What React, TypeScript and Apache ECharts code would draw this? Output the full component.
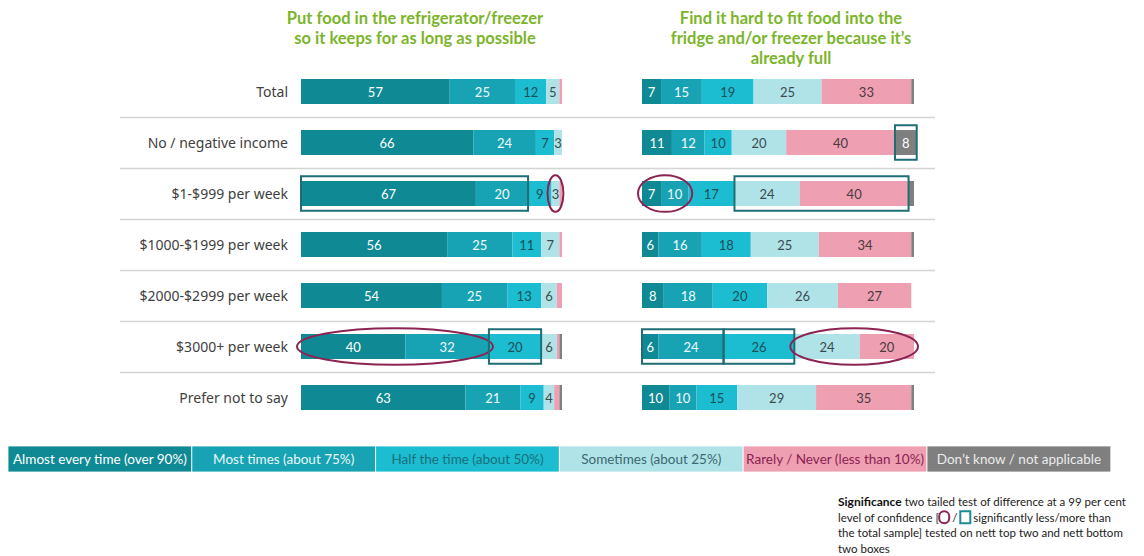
import React, { useEffect, useRef } from "react";
import * as echarts from "echarts";

const categories = [
  "Total",
  "No / negative income",
  "$1-$999 per week",
  "$1000-$1999 per week",
  "$2000-$2999 per week",
  "$3000+ per week",
  "Prefer not to say",
];

const responseLabels = [
  "Almost every time (over 90%)",
  "Most times (about 75%)",
  "Half the time (about 50%)",
  "Sometimes (about 25%)",
  "Rarely / Never (less than 10%)",
  "Don\u2019t know / not applicable",
];

const leftTitle = "Put food in the refrigerator/freezer\nso it keeps for as long as possible";
const rightTitle = "Find it hard to fit food into the\nfridge and/or freezer because it\u2019s\nalready full";

// Left: Put food in the refrigerator/freezer
const leftAlmost = [57, 66, 67, 56, 54, 40, 63];
const leftMost = [25, 24, 20, 25, 25, 32, 21];
const leftHalf = [12, 7, 9, 11, 13, 20, 9];
const leftSometimes = [5, 3, 3, 7, 6, 6, 4];
const leftRarely = [1, 0, 1, 1, 2, 1, 2];
const leftDontKnow = [0, 0, 0, 0, 0, 1, 1];

// Right: Find it hard to fit food
const rightAlmost = [7, 11, 7, 6, 8, 6, 10];
const rightMost = [15, 12, 10, 16, 18, 24, 10];
const rightHalf = [19, 10, 17, 18, 20, 26, 15];
const rightSometimes = [25, 20, 24, 25, 26, 24, 29];
const rightRarely = [33, 40, 40, 34, 27, 20, 35];
const rightDontKnow = [1, 8, 2, 1, 0, 0, 1];

// Significance marks: [row, firstSegment, lastSegment, kind (1 = more/box, 0 = less/circle)]
const leftSignificance = [
  [2, 0, 1, 1],
  [2, 3, 3, 0],
  [5, 0, 1, 0],
  [5, 2, 2, 1],
];
const rightSignificance = [
  [1, 5, 5, 1],
  [2, 0, 1, 0],
  [2, 3, 4, 1],
  [5, 0, 1, 1],
  [5, 2, 2, 1],
  [5, 3, 4, 0],
];

const separatorRows = [1, 2, 3, 4, 5, 6];

const colors = ["#0F8A94", "#17A3B4", "#1DBDD1", "#B0E3E8", "#EEA0B2", "#7F7F7F"];
const labelColors = ["#ffffff", "#f2fbfc", "#1B4F59", "#3A4B50", "#4A3A40", "#ffffff"];
const legendTextColors = ["#ffffff", "#e9f8fa", "#17707A", "#3C6870", "#8A2352", "#ececec"];

const FONT = "Lato, 'Noto Sans', sans-serif";
const LABEL_FONT = "'Noto Sans', Lato, sans-serif";

function sigData(sets: number[][], sig: number[][]) {
  return sig.map(([row, a, b, kind]) => {
    let start = 0;
    for (let i = 0; i < a; i++) start += sets[i][row];
    let end = start;
    for (let i = a; i <= b; i++) end += sets[i][row];
    return [row, start, end, kind];
  });
}

function sigRender(params: any, api: any) {
  const row = api.value(0);
  const s = api.value(1);
  const e = api.value(2);
  const kind = api.value(3);
  const a = api.coord([s, row]);
  const b = api.coord([e, row]);
  const band = api.size([0, 1])[1];
  if (kind === 1) {
    return {
      type: "rect",
      shape: { x: a[0], y: a[1] - band * 0.34, width: b[0] - a[0], height: band * 0.68 },
      style: { fill: "none", stroke: "#1F6E76", lineWidth: 2 },
      z2: 10,
    };
  }
  return {
    type: "ellipse",
    shape: { cx: (a[0] + b[0]) / 2, cy: a[1], rx: (b[0] - a[0]) / 2 + 4, ry: band * 0.36 },
    style: { fill: "none", stroke: "#8C2453", lineWidth: 2 },
    z2: 10,
  };
}

function buildSide(sets: number[][], idx: number, stack: string) {
  return sets.map((vals, i) => ({
    type: "bar",
    name: responseLabels[i],
    stack,
    xAxisIndex: idx,
    yAxisIndex: idx,
    barWidth: 25,
    clip: false,
    data: vals,
    itemStyle: { color: colors[i] },
    label: {
      show: true,
      position: "inside",
      fontFamily: FONT,
      fontSize: 13,
      color: labelColors[i],
      formatter: (p: any) => (p.value >= 3 ? String(p.value) : ""),
    },
  }));
}

export default function App() {
  const ref = useRef<HTMLDivElement>(null);
  useEffect(() => {
    if (!ref.current) return;
    const chart = echarts.init(ref.current, undefined, { renderer: "svg" });
    const leftSets = [leftAlmost, leftMost, leftHalf, leftSometimes, leftRarely, leftDontKnow];
    const rightSets = [rightAlmost, rightMost, rightHalf, rightSometimes, rightRarely, rightDontKnow];

    const legendX0 = 8;
    const legendW = 183.8;
    const legendElems: any[] = [];
    responseLabels.forEach((lab, i) => {
      legendElems.push({
        type: "rect",
        shape: { x: legendX0 + i * legendW, y: 446, width: legendW, height: 26 },
        style: { fill: colors[i], stroke: "#ffffff", lineWidth: 0.8 },
      });
      legendElems.push({
        type: "text",
        x: legendX0 + i * legendW + legendW / 2,
        y: 459,
        style: {
          text: lab,
          align: "center",
          verticalAlign: "middle",
          fontFamily: FONT,
          fontSize: 13.5,
          fill: legendTextColors[i],
        },
      });
    });

    const option: any = {
      animation: false,
      grid: [
        { left: 301, width: 261, top: 66, height: 357 },
        { left: 642, width: 272, top: 66, height: 357 },
      ],
      xAxis: [
        { type: "value", gridIndex: 0, min: 0, max: 100, show: false },
        { type: "value", gridIndex: 1, min: 0, max: 100, show: false },
      ],
      yAxis: [
        {
          type: "category",
          gridIndex: 0,
          inverse: true,
          data: categories,
          axisLine: { show: false },
          axisTick: { show: false },
          splitLine: { show: false },
          axisLabel: { margin: 13, fontFamily: LABEL_FONT, fontSize: 14, color: "#404040" },
        },
        {
          type: "category",
          gridIndex: 1,
          inverse: true,
          data: categories,
          axisLine: { show: false },
          axisTick: { show: false },
          splitLine: { show: false },
          axisLabel: { show: false },
        },
      ],
      series: [
        {
          type: "custom",
          xAxisIndex: 0,
          yAxisIndex: 0,
          z: 1,
          silent: true,
          data: separatorRows.map((r) => [0, r]),
          encode: { x: 0, y: 1 },
          renderItem: (params: any, api: any) => {
            const p = api.coord([0, api.value(1)]);
            const band = api.size([0, 1])[1];
            const y = Math.round(p[1] - band / 2) + 0.5;
            return {
              type: "line",
              shape: { x1: 120, y1: y, x2: 935, y2: y },
              style: { stroke: "#d4d4d4", lineWidth: 1.5 },
            };
          },
        },
        ...buildSide(leftSets, 0, "L"),
        ...buildSide(rightSets, 1, "R"),
        {
          type: "custom",
          xAxisIndex: 0,
          yAxisIndex: 0,
          z: 10,
          silent: true,
          dimensions: ["row", "start", "end", "kind"],
          encode: { x: [1, 2], y: 0 },
          data: sigData(leftSets, leftSignificance),
          renderItem: sigRender,
        },
        {
          type: "custom",
          xAxisIndex: 1,
          yAxisIndex: 1,
          z: 10,
          silent: true,
          dimensions: ["row", "start", "end", "kind"],
          encode: { x: [1, 2], y: 0 },
          data: sigData(rightSets, rightSignificance),
          renderItem: sigRender,
        },
      ],
      graphic: [
        {
          type: "text",
          x: 415,
          y: 8,
          style: {
            text: leftTitle,
            align: "center",
            fontFamily: FONT,
            fontWeight: "bold",
            fontSize: 16.5,
            lineHeight: 20,
            fill: "#7BB52A",
          },
        },
        {
          type: "text",
          x: 791,
          y: 8,
          style: {
            text: rightTitle,
            align: "center",
            fontFamily: FONT,
            fontWeight: "bold",
            fontSize: 16.5,
            lineHeight: 20,
            fill: "#7BB52A",
          },
        },
        ...legendElems,
        {
          type: "text",
          x: 838,
          y: 494,
          style: {
            text:
              "{b|Significance} two tailed test of difference at a 99 per cent\nlevel of confidence [{c|} / {s|} significantly less/more than\nthe total sample] tested on nett top two and nett bottom\ntwo boxes",
            fontFamily: FONT,
            fontSize: 11.5,
            lineHeight: 15.5,
            fill: "#222222",
            rich: {
              b: { fontWeight: "bold", fontFamily: FONT, fontSize: 12, fill: "#111111" },
              c: { width: 10, height: 12, borderColor: "#8C2453", borderWidth: 2, borderRadius: 6 },
              s: { width: 10, height: 12, borderColor: "#1F8A94", borderWidth: 2 },
            },
          },
        },
      ],
    };
    chart.setOption(option);
    return () => chart.dispose();
  }, []);
  return (
    <div
      ref={ref}
      style={{ position: "absolute", left: 0, top: 0, width: 1144, height: 556, background: "#ffffff" }}
    />
  );
}
